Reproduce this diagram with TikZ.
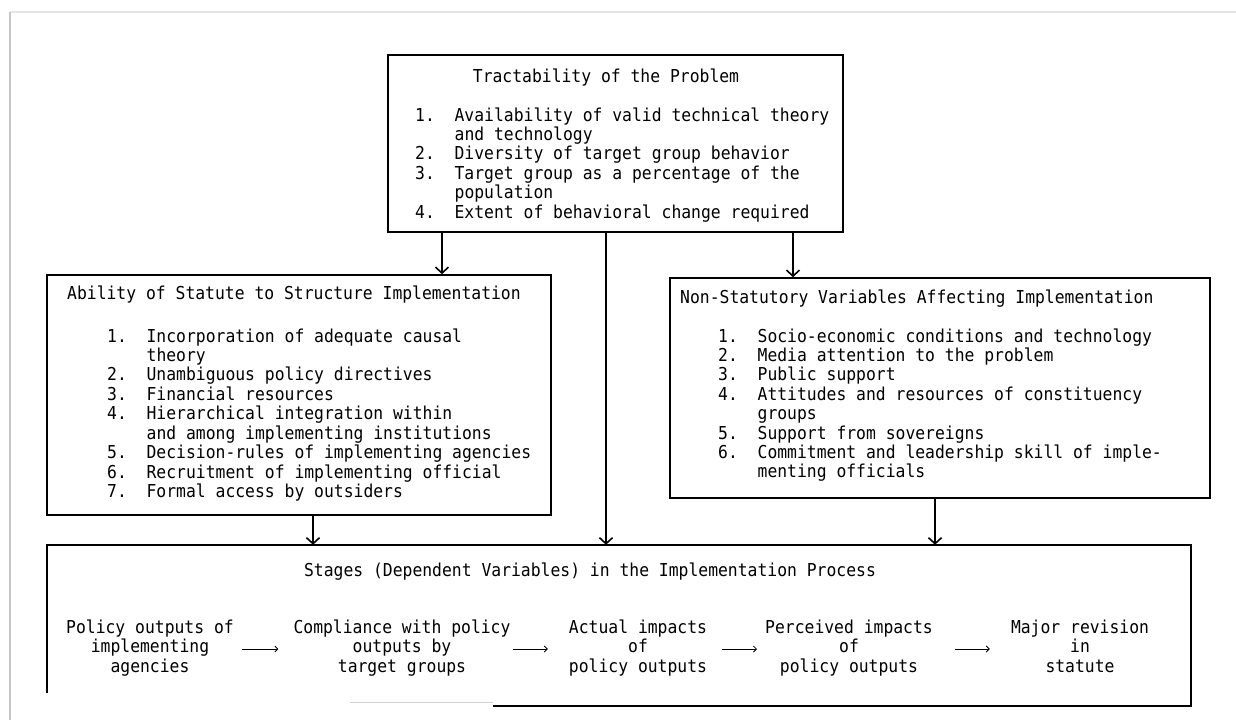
\documentclass[tikz,border=0pt]{standalone}
\usepackage{fontspec}
\newfontfamily\typewriter[FakeStretch=0.92]{DejaVu Sans Mono}
\usetikzlibrary{arrows.meta}

\begin{document}
\begin{tikzpicture}[
    x=1pt, y=-1pt,
    box/.style={draw, line width=1.6pt, inner sep=0pt},
    txt/.style={font=\typewriter\fontsize{17.8}{19.4}\selectfont, inner sep=0pt},
    stage/.style={txt, align=center, execute at begin node=\strut, execute at end node=\strut},
    conn/.style={-{Straight Barb[length=6pt,width=13pt]}, line width=1.6pt},
    stagearr/.style={-{Straight Barb[length=3pt,width=6pt]}, line width=0.8pt},
    pageedge/.style={line width=1.5pt}
]
    \useasboundingbox (0,0) rectangle (1236,720);
    \draw[pageedge, gray!20] (10,12) -- (1236,12);
    \draw[pageedge, gray!45] (10,12) -- (10,720);

    \node[box, minimum width=455pt, minimum height=177pt] (tract) at (615.5,143.5) {};
    \node[box, minimum width=504pt, minimum height=240pt] (ability) at (299,395) {};
    \node[box, minimum width=540pt, minimum height=220pt] (nonstat) at (940,388) {};
    \node[inner sep=0pt, minimum width=1144pt, minimum height=161pt] (stages) at (619,625.5) {};
    \draw[line width=1.6pt] ([yshift=13pt]stages.south west) -- (stages.north west) -- (stages.north east)
        -- (stages.south east) -- ([xshift=446pt]stages.south west);
    \draw[gray!35, line width=1pt] ([xshift=303pt,yshift=4pt]stages.south west) -- ([xshift=446pt,yshift=4pt]stages.south west);

    \node[txt, anchor=base] (tractTitle) at (606,82) {Tractability of the Problem};
    \node[txt, anchor=base west] (tractList) at (415,121) {\begin{tabular}[t]{@{}l@{\hspace{1.108em}}l@{}}
        1. & Availability of valid technical theory\\
           & and technology\\
        2. & Diversity of target group behavior\\
        3. & Target group as a percentage of the\\
           & population\\
        4. & Extent of behavioral change required
    \end{tabular}};

    \node[txt, anchor=base west] (abilityTitle) at (67,299) {Ability of Statute to Structure Implementation};
    \node[txt, anchor=base west] (abilityList) at (107,342) {\begin{tabular}[t]{@{}l@{\hspace{1.108em}}l@{}}
        1. & Incorporation of adequate causal\\
           & theory\\
        2. & Unambiguous policy directives\\
        3. & Financial resources\\
        4. & Hierarchical integration within\\
           & and among implementing institutions\\
        5. & Decision-rules of implementing agencies\\
        6. & Recruitment of implementing official\\
        7. & Formal access by outsiders
    \end{tabular}};

    \node[txt, anchor=base west] (nonstatTitle) at (680,303) {Non-Statutory Variables Affecting Implementation};
    \node[txt, anchor=base west] (nonstatList) at (718,342) {\begin{tabular}[t]{@{}l@{\hspace{1.108em}}l@{}}
        1. & Socio-economic conditions and technology\\
        2. & Media attention to the problem\\
        3. & Public support\\
        4. & Attitudes and resources of constituency\\
           & groups\\
        5. & Support from sovereigns\\
        6. & Commitment and leadership skill of imple-\\
           & menting officials
    \end{tabular}};

    \node[txt, anchor=base] (stagesTitle) at (590,576) {Stages (Dependent Variables) in the Implementation Process};
    \node[stage] (s1) at (150,649) {Policy outputs of\\implementing\\agencies};
    \node[stage] (s2) at (402,649) {Compliance with policy\\outputs by\\target groups};
    \node[stage] (s3) at (638,649) {Actual impacts\\of\\policy outputs};
    \node[stage] (s4) at (849,649) {Perceived impacts\\of\\policy outputs};
    \node[stage] (s5) at (1080,649) {Major revision\\in\\statute};

    \draw[conn] (442,0 |- tract.south) -- (442,0 |- ability.north);
    \draw[conn] (793,0 |- tract.south) -- (793,0 |- nonstat.north);
    \draw[conn] (606,0 |- tract.south) -- (606,0 |- stages.north);
    \draw[conn] (313,0 |- ability.south) -- (313,0 |- stages.north);
    \draw[conn] (935,0 |- nonstat.south) -- (935,0 |- stages.north);

    \draw[stagearr, shorten <=8pt, shorten >=15pt] (s1) -- (s2);
    \draw[stagearr, shorten <=2pt, shorten >=21pt] (s2) -- (s3);
    \draw[stagearr, shorten <=15pt, shorten >=8pt] (s3) -- (s4);
    \draw[stagearr, shorten <=22pt, shorten >=21pt] (s4) -- (s5);
\end{tikzpicture}
\end{document}
